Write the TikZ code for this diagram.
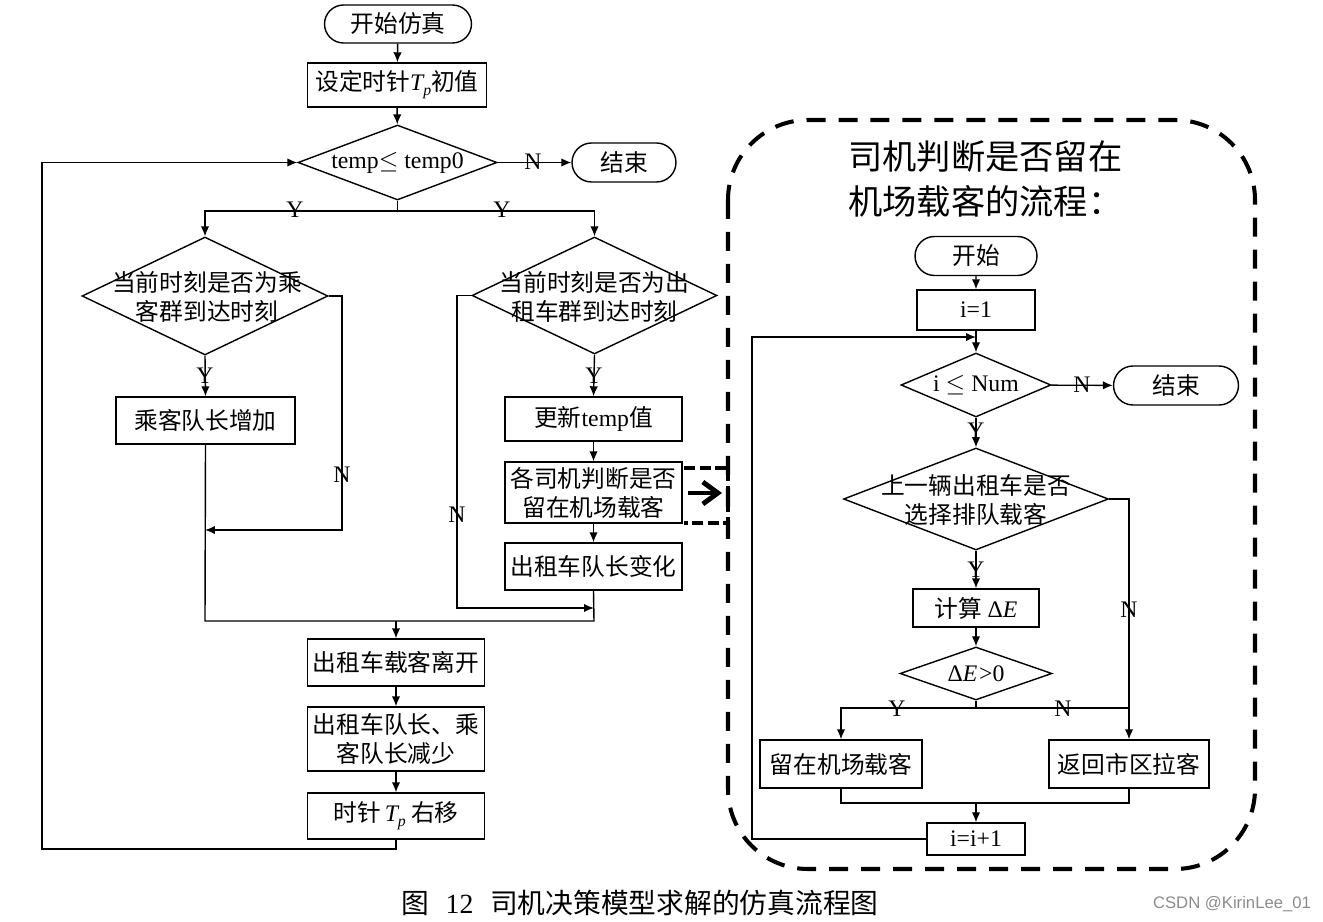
\documentclass[tikz,border=0pt]{standalone}
\usepackage{fontspec}
\setmainfont{Liberation Serif}
\newfontfamily\cjk{Noto Sans CJK SC}
\newfontfamily\wmfont{Liberation Sans}
\usetikzlibrary{arrows.meta,shapes.geometric,shapes.misc}
\newcommand\Tp{{\rmfamily\itshape T\raisebox{-0.45ex}{\small p}}}
\newcommand\lat[1]{{\rmfamily #1}}
\begin{document}
\begin{tikzpicture}[x=0.02cm,y=-0.02cm,
  every node/.style={font=\cjk\fontsize{13.5}{16.5}\selectfont},
  box/.style={draw,line width=0.8pt,rectangle,inner sep=0pt,align=center},
  term/.style={draw,line width=0.8pt,rounded rectangle,inner sep=0pt},
  dia/.style={draw,line width=0.8pt,diamond,inner sep=0pt},
  txt/.style={align=center,inner sep=0pt},
  lbl/.style={font=\rmfamily\fontsize{13.5}{16}\selectfont,inner sep=0pt},
  ln/.style={line width=0.8pt},
  arr/.style={line width=0.8pt,-{Latex[length=2mm,width=1.7mm]}},
  bigdash/.style={line width=2.3pt,dash pattern=on 0.38cm off 0.26cm,rounded corners=1.6cm},
  smalldash/.style={line width=2.2pt,dash pattern=on 0.22cm off 0.09cm},
  boldarr/.style={line width=2.8pt,-{Straight Barb[length=3mm,width=4.4mm]}},
]
\useasboundingbox (0,0) rectangle (1323,922);

% ---------------- left flowchart ----------------
\node[term,minimum width=2.94cm,minimum height=0.76cm] (s0) at (398,24) {开始仿真};
\node[box,minimum width=3.58cm,minimum height=0.88cm] (s1) at (397,85) {设定时针\Tp{}初值};
\node[dia,minimum width=3.98cm,minimum height=1.5cm] (d0) at (397.5,162.5) {};
\node[txt,font=\rmfamily\fontsize{13.5}{16}\selectfont] (d0t) at (d0) {temp$\le$ temp0};
\node[term,minimum width=2.08cm,minimum height=0.78cm] (e0) at (624,162.5) {结束};

\node[dia,minimum width=4.92cm,minimum height=2.36cm] (d1) at (205,296) {};
\node[txt] (d1t) at (207,297) {当前时刻是否为乘\\客群到达时刻};
\node[dia,minimum width=4.9cm,minimum height=2.34cm] (d2) at (594.5,295.5) {};
\node[txt] (d2t) at (594.5,297) {当前时刻是否为出\\租车群到达时刻};

\node[box,minimum width=3.58cm,minimum height=0.94cm] (b1) at (205.5,420.5) {乘客队长增加};
\node[box,minimum width=3.54cm,minimum height=0.88cm] (b2) at (593.5,419) {更新\lat{temp}值};
\node[box,minimum width=3.54cm,minimum height=1.22cm] (b3) at (593.5,492.5) {各司机判断是否\\留在机场载客};
\node[box,minimum width=3.54cm,minimum height=0.94cm] (b4) at (593.5,566.5) {出租车队长变化};
\node[box,minimum width=3.54cm,minimum height=0.94cm] (b5) at (396,662.5) {出租车载客离开};
\node[box,minimum width=3.54cm,minimum height=1.28cm] (b6) at (396,739) {出租车队长、乘\\客队长减少};
\node[box,minimum width=3.54cm,minimum height=0.92cm] (b7) at (396,816) {时针\,\Tp\ 右移};

\coordinate (j0) at (397.5,211);
\coordinate (m1) at (205,530);
\coordinate (m2) at (594,608);
\coordinate (j1) at (396,621);

\draw[arr] (s0) -- (s1);
\draw[arr] (s1) -- (d0);
\draw[arr] (d0.east) -- (e0.west);
\draw[ln] (d0.south) -- (j0);
\draw[arr] (j0) -| (d1.north);
\draw[arr] (j0) -| (d2.north);
\draw[arr] (d1.south) -- (b1.north);
\draw[arr] (d1.east) -- (342,296) -- (342,530) -- (m1);
\draw[ln] (b1.south) -- (205,621) -- (594,621) -- (b4.south);
\draw[arr] (d2.south) -- (b2.north);
\draw[arr] (b2) -- (b3);
\draw[arr] (b3) -- (b4);
\draw[arr] (d2.west) -- (457,295.5) -- (457,608) -- (m2);
\draw[arr] (j1) -- (b5.north);
\draw[arr] (b5) -- (b6);
\draw[arr] (b6) -- (b7);
\draw[arr] (b7.south) -- (396,849) -- (42,849) -- (42,162.5) -- (d0.west);

\node[lbl] (l1) at (533,162) {N};
\node[lbl] (l2) at (295,210) {Y};
\node[lbl] (l3) at (502,210) {Y};
\node[lbl] (l4) at (205,376) {Y};
\node[lbl] (l5) at (342,475) {N};
\node[lbl] (l6) at (594,376) {Y};
\node[lbl] (l7) at (457,515) {N};

% small dashed box and bold arrow
\draw[smalldash] (684,468) -- (728,468) -- (728,523) -- (684,523);
\coordinate (ba) at (722,493);
\draw[boldarr] ([xshift=3pt]b3.east |- ba) -- (ba);

% ---------------- right panel ----------------
\draw[bigdash] (728,120) rectangle (1255,869);
\node[anchor=west,inner sep=0pt,font=\cjk\fontsize{19.5}{24}\selectfont] (t1) at (848,157) {司机判断是否留在};
\node[anchor=west,inner sep=0pt,font=\cjk\fontsize{19.5}{24}\selectfont] (t2) at (848,201) {机场载客的流程：};

\node[term,minimum width=2.44cm,minimum height=0.78cm] (r0) at (976,256) {开始};
\node[box,minimum width=2.36cm,minimum height=0.8cm] (r1) at (976,310) {\lat{i=1}};
\node[dia,minimum width=3.0cm,minimum height=1.28cm] (r2) at (976,385) {};
\node[txt,font=\rmfamily\fontsize{13.5}{16}\selectfont] (r2t) at (r2) {i $\le$ Num};
\node[term,minimum width=2.5cm,minimum height=0.78cm] (r3) at (1176,385.5) {结束};
\node[dia,minimum width=5.3cm,minimum height=2.04cm] (r4) at (976,499) {};
\node[txt] (r4t) at (976,500) {上一辆出租车是否\\选择排队载客};
\node[box,minimum width=2.52cm,minimum height=0.76cm] (r5) at (976,608) {计算 \lat{Δ\textit{E}}};
\node[dia,minimum width=3.04cm,minimum height=1.06cm] (r6) at (976,673.5) {};
\node[txt,font=\rmfamily\fontsize{13.5}{16}\selectfont] (r6t) at (r6) {Δ\textit{E} \!>0};
\node[box,minimum width=3.24cm,minimum height=0.96cm] (r7) at (841,764) {留在机场载客};
\node[box,minimum width=3.2cm,minimum height=0.96cm] (r8) at (1129,764) {返回市区拉客};
\node[box,minimum width=1.96cm,minimum height=0.64cm] (r9) at (976,839) {\lat{i=i+1}};

\coordinate (k0) at (976,337);
\coordinate (k1) at (976,708);
\coordinate (k2) at (976,803);

\draw[arr] (r0) -- (r1);
\draw[arr] (r1) -- (r2);
\draw[arr] (r2) -- (r3);
\draw[arr] (r2) -- (r4);
\draw[arr] (r4.east) -- (1129,499) -- (r8.north);
\draw[arr] (r4) -- (r5);
\draw[arr] (r5) -- (r6);
\draw[ln] (r6.south) -- (k1);
\draw[arr] (k1) -| (r7.north);
\draw[ln] (k1) -- (1129,708);
\draw[ln] (r7.south) -- (841,803) -- (1129,803) -- (r8.south);
\draw[arr] (k2) -- (r9.north);
\draw[arr] (r9.west) -- (752,839) -- (752,337) -- (k0);

\node[lbl] (q1) at (1082,385) {N};
\node[lbl] (q2) at (976,431) {Y};
\node[lbl] (q3) at (976,570) {Y};
\node[lbl] (q4) at (1129,610) {N};
\node[lbl] (q5) at (897,709) {Y};
\node[lbl] (q6) at (1063,709) {N};

% caption and watermark
\node[font=\cjk\fontsize{15.8}{18}\selectfont] (cap) at (640,903) {图\hspace{0.6em}\lat{12}\hspace{0.6em}司机决策模型求解的仿真流程图};
\node[font=\wmfont\fontsize{9.5}{11}\selectfont,text=black!45] (wm) at (1232,904) {CSDN @KirinLee\_01};
\end{tikzpicture}
\end{document}
